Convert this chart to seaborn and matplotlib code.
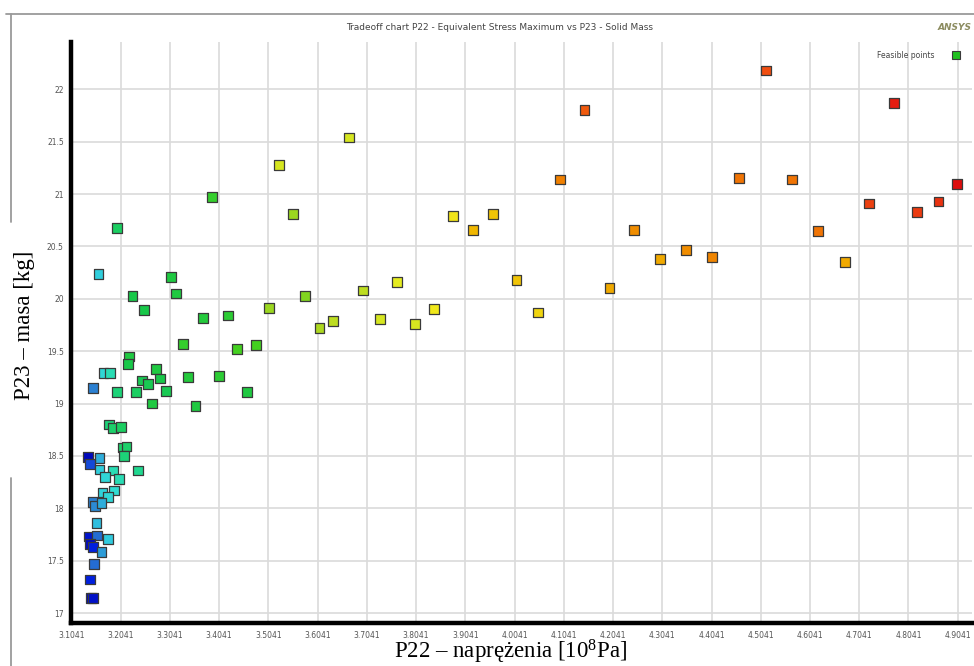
import matplotlib
matplotlib.use("Agg")
import matplotlib.pyplot as plt
from matplotlib.colors import LinearSegmentedColormap
from matplotlib.lines import Line2D
import seaborn as sns
import pandas as pd
import numpy as np

# ---- data ----
stress = [3.331, 3.440, 3.479, 3.221, 3.219, 3.275, 3.169, 3.182, 3.247, 3.260,
          3.284, 3.341, 3.404, 3.148, 3.196, 3.235, 3.296, 3.461, 3.268, 3.356,
          3.181, 3.189, 3.205, 3.209, 3.216, 3.211, 3.138, 3.161, 3.142, 3.161,
          3.188, 3.240, 3.172, 3.201, 3.191, 3.167, 3.179, 3.148, 3.152, 3.165,
          3.155, 3.140, 3.156, 3.178, 3.142, 3.148, 3.165, 3.150, 3.142, 3.143,
          3.148,
          3.389, 3.554, 3.196, 3.159, 3.306, 3.316, 3.228, 3.579, 3.252, 3.505,
          3.371, 3.422, 3.608, 3.635, 3.526, 3.667, 4.146, 4.097, 3.879, 3.961,
          3.919, 4.246, 3.697, 3.766, 4.008, 4.197, 3.730, 3.802, 3.840, 4.051,
          4.514, 4.775, 4.460, 4.568, 4.903, 4.724, 4.821, 4.865, 4.621, 4.299,
          4.353, 4.405, 4.675]
mass = [19.57, 19.52, 19.56, 19.45, 19.38, 19.33, 19.29, 19.29, 19.22, 19.19,
        19.24, 19.25, 19.26, 19.15, 19.11, 19.11, 19.12, 19.11, 19.00, 18.98,
        18.80, 18.77, 18.78, 18.58, 18.59, 18.50, 18.49, 18.48, 18.42, 18.37,
        18.36, 18.36, 18.30, 18.28, 18.17, 18.15, 18.11, 18.06, 18.02, 18.05,
        17.86, 17.73, 17.74, 17.71, 17.66, 17.63, 17.58, 17.47, 17.32, 17.14,
        17.14,
        20.97, 20.81, 20.68, 20.24, 20.21, 20.05, 20.03, 20.03, 19.89, 19.91,
        19.82, 19.84, 19.72, 19.79, 21.28, 21.54, 21.80, 21.14, 20.79, 20.81,
        20.66, 20.66, 20.08, 20.16, 20.18, 20.10, 19.81, 19.76, 19.90, 19.87,
        22.18, 21.87, 21.15, 21.14, 21.10, 20.91, 20.83, 20.93, 20.65, 20.38,
        20.47, 20.40, 20.35]
colour_value = [0.50, 0.52, 0.52, 0.47, 0.46, 0.47, 0.30, 0.36, 0.45, 0.45,
                0.46, 0.48, 0.49, 0.17, 0.42, 0.44, 0.45, 0.47, 0.47, 0.47,
                0.42, 0.43, 0.44, 0.43, 0.43, 0.42, 0.02, 0.22, 0.12, 0.27,
                0.36, 0.40, 0.30, 0.36, 0.32, 0.28, 0.30, 0.17, 0.18, 0.22,
                0.24, 0.05, 0.15, 0.26, 0.03, 0.08, 0.20, 0.15, 0.08, 0.03,
                0.04,
                0.50, 0.56, 0.44, 0.27, 0.47, 0.47, 0.46, 0.55, 0.46, 0.56,
                0.48, 0.49, 0.57, 0.58, 0.60, 0.60, 0.84, 0.78, 0.64, 0.68,
                0.70, 0.76, 0.58, 0.61, 0.68, 0.72, 0.60, 0.60, 0.63, 0.66,
                0.86, 0.93, 0.80, 0.80, 0.96, 0.88, 0.89, 0.90, 0.80, 0.72,
                0.76, 0.77, 0.72]

x_ticks = [3.1041 + 0.1 * k for k in range(19)]
x_tick_labels = ["%.4f" % v for v in x_ticks]
y_ticks = [17, 17.5, 18, 18.5, 19, 19.5, 20, 20.5, 21, 21.5, 22]
y_tick_labels = ["17", "17.5", "18", "18.5", "19", "19.5", "20", "20.5", "21", "21.5", "22"]

title = "Tradeoff chart P22 - Equivalent Stress Maximum vs P23 - Solid Mass"
xlabel = "P22 – naprężenia [10$^8$Pa]"
ylabel = "P23 – masa [kg]"
legend_label = "Feasible points"

df = pd.DataFrame({"stress": stress, "mass": mass, "c": colour_value})

sns.set_style("white")
plt.rcParams["font.family"] = ["DejaVu Sans"]
plt.rcParams["mathtext.fontset"] = "custom"
plt.rcParams["mathtext.rm"] = "Liberation Serif"
plt.rcParams["mathtext.it"] = "Liberation Serif:italic"

cmap = LinearSegmentedColormap.from_list("ansys", [
    (0.00, "#0000b0"), (0.08, "#0020e0"), (0.16, "#2a78d0"), (0.25, "#30c8e0"),
    (0.33, "#30e0d0"), (0.40, "#20d890"), (0.46, "#18c848"), (0.52, "#40d020"),
    (0.57, "#b0d820"), (0.62, "#f0f020"), (0.70, "#f0b800"), (0.78, "#f08000"),
    (0.86, "#f05010"), (0.95, "#e01010"), (1.00, "#d00000")])

fig = plt.figure(figsize=(9.74, 6.66), dpi=100)
ax = fig.add_axes([0.0734, 0.0646, 0.925, 0.872])

ax.grid(True, color="#dadada", linewidth=1.2)
ax.set_axisbelow(True)

sns.scatterplot(data=df, x="stress", y="mass", hue="c", palette=cmap,
                hue_norm=(0, 1), marker="s", s=50, edgecolor="#3a3a3a",
                linewidth=0.9, legend=False, ax=ax, zorder=3)

ax.set_xlim(3.1041, 4.934)
ax.set_ylim(16.905, 22.45)
ax.set_xticks(x_ticks)
ax.set_xticklabels(x_tick_labels)
ax.set_yticks(y_ticks)
ax.set_yticklabels(y_tick_labels)
ax.tick_params(axis="both", labelsize=5.5, labelcolor="#555555", color="#888888",
               length=3, width=0.8, direction="out", pad=2.5)
ax.set_xlabel("")
ax.set_ylabel("")

for s in ["top", "right"]:
    ax.spines[s].set_visible(False)
for s in ["left", "bottom"]:
    ax.spines[s].set_linewidth(3.2)
    ax.spines[s].set_color("black")

# legend
handle = Line2D([], [], marker="s", linestyle="none", markersize=6,
                markerfacecolor="#20c020", markeredgecolor="#3a3a3a", markeredgewidth=0.8)
leg = ax.legend([handle], [legend_label], loc="upper right", frameon=False,
                markerfirst=False, fontsize=5.5, bbox_to_anchor=(0.994, 0.99),
                handletextpad=1.8, borderaxespad=0)
for t in leg.get_texts():
    t.set_color("#444444")

# frame of the window
W, H = 974.0, 666.0
def fx(px):
    return px / W
def fy(py):
    return 1 - py / H
frame_kw = dict(color="#9a9a9a", linewidth=1.3, transform=fig.transFigure)
fig.add_artist(Line2D([fx(6), fx(974)], [fy(14), fy(14)], **frame_kw))
fig.add_artist(Line2D([fx(11), fx(11)], [fy(14), fy(222)], **frame_kw))
fig.add_artist(Line2D([fx(11), fx(11)], [fy(478), fy(666)], **frame_kw))

fig.text(fx(500), fy(27), title, ha="center", va="center", fontsize=6.5, color="#444444")
fig.text(fx(972), fy(27), "ANSYS", ha="right", va="center", fontsize=6.5,
         fontweight="bold", style="italic", color="#8c8c60")

fig.text(fx(511), fy(652), xlabel, ha="center", va="center", fontsize=16.5,
         family="Liberation Serif", color="black")
fig.text(fx(25), fy(325), ylabel, ha="center", va="center", rotation=90,
         fontsize=16.5, family="Liberation Serif", color="black")

fig.savefig("out.png", dpi=100, facecolor="white")
